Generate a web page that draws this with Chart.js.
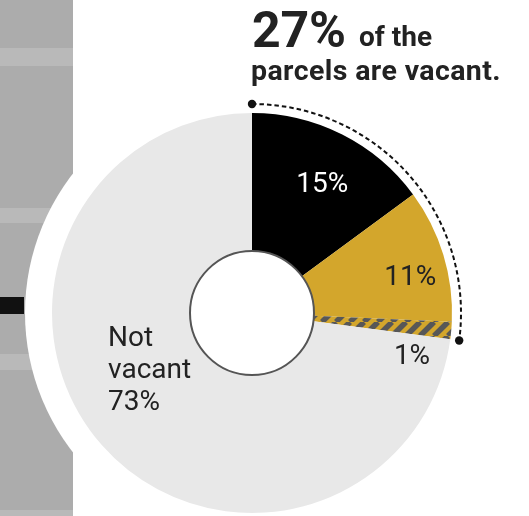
<!DOCTYPE html>
<html>
<head>
<meta charset="utf-8">
<script src="https://cdn.jsdelivr.net/npm/chart.js@4/dist/chart.umd.min.js"></script>
<style>
  html, body { margin: 0; padding: 0; background: #ffffff; }
  #wrap { position: relative; width: 529px; height: 516px; overflow: hidden; }
  canvas { position: absolute; left: 0; top: 0; }
  .t { position: absolute; font-family: Roboto, "DejaVu Sans", sans-serif; font-weight: bold; color: #222; white-space: nowrap; line-height: 1.17; }
  #big { left: 252px; top: 1px; font-size: 50px; letter-spacing: -0.2px; }
  #of { left: 359px; top: 21px; font-size: 28px; }
  #line2 { left: 251px; top: 54px; font-size: 28.5px; letter-spacing: 0.4px; }
</style>
</head>
<body>
<div id="wrap">
  <canvas id="c" width="529" height="516"></canvas>
  <div class="t" id="big">27%</div>
  <div class="t" id="of">of the</div>
  <div class="t" id="line2">parcels are vacant.</div>
</div>
<script>
// ---- data (slice shares as drawn; labels as printed) ----
const categories = ["Vacant (black)", "Vacant (yellow)", "Vacant (hatched)", "Not vacant"];
const values = [14.9, 10.8, 1.4, 72.9];
const sliceLabels = [["15%"], ["11%"], ["1%"], ["Not", "vacant", "73%"]];
const vacantSliceCount = 3;

// ---- styles ----
const YELLOW = "#d3a62c";
const DARK = "#575757";
function hatch() {
  const s = 14;
  const p = document.createElement("canvas");
  p.width = s; p.height = s;
  const g = p.getContext("2d");
  g.fillStyle = YELLOW; g.fillRect(0, 0, s, s);
  g.strokeStyle = DARK; g.lineWidth = 5.5;
  g.beginPath();
  for (let k = -1; k <= 1; k++) {
    g.moveTo(k * s, s); g.lineTo(k * s + s, 0);
  }
  g.stroke();
  const ctx = document.getElementById("c").getContext("2d");
  return ctx.createPattern(p, "repeat");
}
const colors = ["#000000", YELLOW, hatch(), "#e8e8e8"];
const labelColors = ["#ffffff", "#222222", "#222222", "#222222"];
const labelAngleShift = [1.9, 4.4, 10.4, 19.2];   // degrees
const labelRadiusFrac = [0.73, 0.81, 0.83, 0.776];
const labelAlign = ["center", "center", "center", "left"];

const backgroundPlugin = {
  id: "bg",
  beforeDraw(chart) {
    const ctx = chart.ctx;
    const el = chart.getDatasetMeta(0).data[0];
    ctx.save();
    ctx.fillStyle = "#acacac";
    ctx.fillRect(0, 0, 73, 516);
    ctx.fillStyle = "#b9b9b9";
    [[48, 18], [208, 15], [354, 16], [510, 6]].forEach(([y, h]) => ctx.fillRect(0, y, 73, h));
    ctx.fillStyle = "#111";
    ctx.fillRect(0, 297, 24, 17);
    ctx.fillStyle = "#ffffff";
    ctx.beginPath();
    ctx.arc(el.x, el.y, el.outerRadius + 27, 0, Math.PI * 2);
    ctx.fill();
    ctx.restore();
  }
};

const overlayPlugin = {
  id: "overlay",
  afterDatasetsDraw(chart) {
    const ctx = chart.ctx;
    const meta = chart.getDatasetMeta(0);
    const first = meta.data[0];
    const cx = first.x, cy = first.y;
    ctx.save();
    ctx.strokeStyle = "#555";
    ctx.lineWidth = 2;
    ctx.beginPath();
    ctx.arc(cx, cy, first.innerRadius, 0, Math.PI * 2);
    ctx.stroke();
    const a0 = meta.data[0].startAngle;
    const a1 = meta.data[vacantSliceCount - 1].endAngle;
    const r = first.outerRadius + 9;
    ctx.strokeStyle = "#111";
    ctx.lineWidth = 2;
    ctx.setLineDash([4.5, 3]);
    ctx.beginPath();
    ctx.arc(cx, cy, r, a0, a1);
    ctx.stroke();
    ctx.setLineDash([]);
    ctx.fillStyle = "#111";
    [a0, a1].forEach(a => {
      ctx.beginPath();
      ctx.arc(cx + Math.cos(a) * r, cy + Math.sin(a) * r, 4.2, 0, Math.PI * 2);
      ctx.fill();
    });
    ctx.font = "400 28px Roboto, 'DejaVu Sans', sans-serif";
    ctx.textBaseline = "middle";
    meta.data.forEach((el, i) => {
      const mid = (el.startAngle + el.endAngle) / 2 + labelAngleShift[i] * Math.PI / 180;
      const rr = el.outerRadius * labelRadiusFrac[i];
      const x = cx + Math.cos(mid) * rr;
      const y = cy + Math.sin(mid) * rr;
      const lines = sliceLabels[i];
      const lh = 32;
      ctx.fillStyle = labelColors[i];
      ctx.textAlign = labelAlign[i];
      lines.forEach((t, k) => {
        ctx.fillText(t, x, y + (k - (lines.length - 1) / 2) * lh);
      });
    });
    ctx.restore();
  }
};

new Chart(document.getElementById("c"), {
  type: "doughnut",
  data: {
    labels: categories,
    datasets: [{
      data: values,
      backgroundColor: colors,
      borderWidth: 0,
      hoverOffset: 0
    }]
  },
  options: {
    responsive: false,
    animation: false,
    cutout: "31%",
    layout: { padding: { left: 52, right: 77, top: 113, bottom: 3 } },
    plugins: { legend: { display: false }, tooltip: { enabled: false } },
    events: []
  },
  plugins: [backgroundPlugin, overlayPlugin]
});
</script>
</body>
</html>
